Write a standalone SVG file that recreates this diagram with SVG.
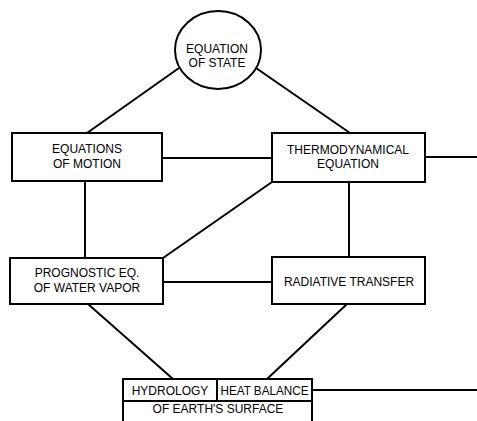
<svg xmlns="http://www.w3.org/2000/svg" width="477" height="421" viewBox="0 0 477 421">
<style>
.b{fill:#fff;stroke:#000;stroke-width:2}
.l{stroke:#000;stroke-width:2;fill:none}
text{font-family:"Liberation Sans",Arial,sans-serif;font-size:12px;fill:#000;text-anchor:middle}
</style>
<rect width="477" height="421" fill="#fff"/>
<g id="connectors">
<line class="l" x1="87" y1="133" x2="179" y2="68"/>
<line class="l" x1="350" y1="133" x2="256" y2="68"/>
<line class="l" x1="162" y1="158" x2="272" y2="158"/>
<line class="l" x1="425" y1="157" x2="477" y2="157"/>
<line class="l" x1="85" y1="181" x2="85" y2="258"/>
<line class="l" x1="272" y1="182" x2="163" y2="258"/>
<line class="l" x1="349" y1="182" x2="349" y2="257"/>
<line class="l" x1="163" y1="282" x2="272" y2="282"/>
<line class="l" x1="88" y1="304" x2="173" y2="379"/>
<line class="l" x1="347" y1="304" x2="267" y2="379"/>
<line class="l" x1="312" y1="390" x2="477" y2="390"/>
</g>
<g id="state">
<ellipse class="b" cx="218" cy="50" rx="43" ry="39"/>
<text x="217" y="53">EQUATION</text>
<text x="217" y="67">OF STATE</text>
</g>
<g id="motion">
<rect class="b" x="12" y="133" width="150" height="48"/>
<text x="87" y="153">EQUATIONS</text>
<text x="87" y="168">OF MOTION</text>
</g>
<g id="thermo">
<rect class="b" x="272" y="133" width="153" height="49"/>
<text x="348" y="154">THERMODYNAMICAL</text>
<text x="348" y="168">EQUATION</text>
</g>
<g id="vapor">
<rect class="b" x="10" y="258" width="153" height="46"/>
<text x="87" y="277">PROGNOSTIC EQ.</text>
<text x="87" y="292">OF WATER VAPOR</text>
</g>
<g id="radiative">
<rect class="b" x="272" y="257" width="153" height="47"/>
<text x="349" y="286">RADIATIVE TRANSFER</text>
</g>
<g id="surface">
<path class="l" d="M123 421V379H312V421M123 401H312M217 379V401"/>
<text x="170" y="395">HYDROLOGY</text>
<text x="264.5" y="395" textLength="88" lengthAdjust="spacingAndGlyphs">HEAT BALANCE</text>
<text x="218" y="413">OF EARTH'S SURFACE</text>
</g>
</svg>
